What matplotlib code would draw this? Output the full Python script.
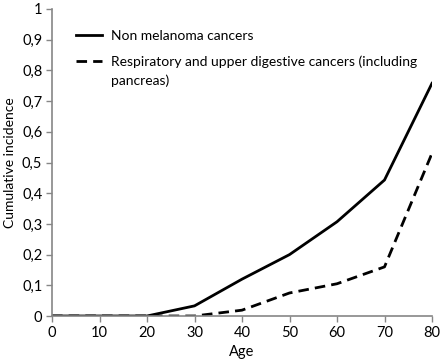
import matplotlib
matplotlib.use("Agg")
import matplotlib.pyplot as plt
from matplotlib.lines import Line2D

ages = [0, 10, 20, 30, 40, 50, 60, 70, 80]
non_melanoma = [0, 0, 0, 0.033, 0.12, 0.20, 0.307, 0.443, 0.758]
resp_digestive = [0, 0, 0, 0, 0.019, 0.075, 0.105, 0.16, 0.53]
yticks = [0, 0.1, 0.2, 0.3, 0.4, 0.5, 0.6, 0.7, 0.8, 0.9, 1.0]
ytick_labels = ["0", "0,1", "0,2", "0,3", "0,4", "0,5", "0,6", "0,7", "0,8", "0,9", "1"]
xticks = [0, 10, 20, 30, 40, 50, 60, 70, 80]

plt.rcParams['font.family'] = ['Lato', 'DejaVu Sans']

fig = plt.figure(figsize=(4.40, 3.61), dpi=100)
ax = fig.add_axes([52/440, 45/361, 380/440, 307/361])

DASH = (3.8, 2.2)
ax.plot(ages, non_melanoma, color='black', lw=2.0, solid_joinstyle='miter')
ax.plot(ages, resp_digestive, color='black', lw=2.0, dashes=DASH)

ax.set_xlim(0, 80)
ax.set_ylim(0, 1)
ax.set_xticks(xticks)
ax.set_xticklabels([str(x) for x in xticks])
ax.set_yticks(yticks)
ax.set_yticklabels(ytick_labels)
for s in ['top', 'right']:
    ax.spines[s].set_visible(False)
for s in ['left', 'bottom']:
    ax.spines[s].set_color('#868686')
    ax.spines[s].set_linewidth(1.2)
ax.tick_params(axis='both', colors='#868686', labelcolor='black', labelsize=10.5, length=4, width=1.0)
ax.tick_params(axis='x', pad=3)
ax.tick_params(axis='y', pad=3)
ax.set_xlabel("Age", fontsize=10.5, labelpad=4)
ax.set_ylabel("Cumulative incidence", fontsize=10, labelpad=4)

handles = [Line2D([], [], color='black', lw=2.0),
           Line2D([], [], color='black', lw=2.0, dashes=DASH)]
labels = ["Non melanoma cancers",
          "Respiratory and upper digestive cancers (including"]
leg = ax.legend(handles, labels, loc='upper left', bbox_to_anchor=(0.063, 0.933),
                frameon=False, fontsize=10, handlelength=1.9, handletextpad=0.6,
                labelspacing=1.0, borderaxespad=0, borderpad=0)
fig.canvas.draw()
t2 = leg.get_texts()[1]
bb = t2.get_window_extent().transformed(ax.transAxes.inverted())
ax.text(bb.x0, bb.y0 - 0.022, "pancreas)", transform=ax.transAxes, fontsize=10,
        va='top', ha='left')

fig.savefig("out.png", dpi=100)
